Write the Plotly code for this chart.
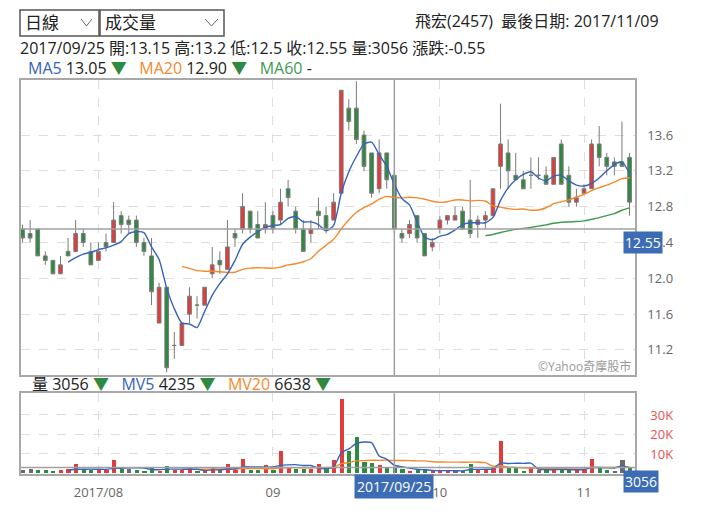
import plotly.graph_objects as go

# ---------------- data ----------------
dates = (
    ["2017/07/%02d" % d for d in [18, 19, 20, 21, 24, 25, 26, 27, 28, 31]]
    + ["2017/08/%02d" % d for d in [1, 2, 3, 4, 7, 8, 9, 10, 11, 14, 15, 16, 17, 18, 21, 22, 23, 24, 25, 28, 29, 30, 31]]
    + ["2017/09/%02d" % d for d in [1, 4, 5, 6, 7, 8, 11, 12, 13, 14, 15, 18, 19, 20, 21, 22, 25, 26, 27, 28, 29, 30]]
    + ["2017/10/%02d" % d for d in [2, 3, 5, 6, 11, 12, 13, 16, 17, 18, 19, 20, 23, 24, 25, 26, 27, 30, 31]]
    + ["2017/11/%02d" % d for d in [1, 2, 3, 6, 7, 8, 9]]
)

open_ = [12.55, 12.5, 12.55, 12.25, 12.2, 12.05, 12.3, 12.3, 12.5, 12.3,
         12.2, 12.4, 12.4, 12.7, 12.65, 12.65, 12.4, 12.25, 11.5, 11.9,
         11.25, 11.25, 11.6, 11.7, 11.7, 12.05, 12.2, 12.1, 12.5, 12.55,
         12.75, 12.6, 12.55, 12.7, 12.65, 13.0, 12.75, 12.55, 12.5, 12.75,
         12.7, 12.65, 12.95, 13.9, 13.9, 13.6, 13.4, 13.0, 13.4, 13.15,
         12.5, 12.5, 12.7, 12.5, 12.35, 12.55, 12.65, 12.65, 12.75, 12.65,
         12.6, 12.65, 12.7, 13.25, 13.4, 13.15, 13.1, 13.15, 13.15, 13.15,
         13.05, 13.5, 13.15, 12.85, 12.95, 13.0, 13.5, 13.35, 13.3, 13.3,
         13.35]
high = [12.6, 12.65, 12.55, 12.3, 12.2, 12.25, 12.45, 12.65, 12.55, 12.4,
        12.4, 12.5, 12.85, 12.75, 12.7, 12.7, 12.45, 12.45, 11.95, 11.9,
        11.4, 11.5, 11.9, 11.8, 11.9, 12.35, 12.3, 12.65, 12.55, 12.95,
        12.75, 12.75, 12.85, 12.75, 13.0, 13.1, 12.8, 12.65, 12.65, 12.9,
        12.8, 12.95, 14.1, 14.0, 14.2, 13.65, 13.4, 13.55, 13.4, 13.2,
        12.55, 12.65, 12.7, 12.5, 12.45, 12.7, 12.7, 12.8, 12.8, 13.1,
        12.7, 12.75, 13.0, 13.95, 13.55, 13.4, 13.2, 13.35, 13.35, 13.25,
        13.35, 13.55, 13.25, 13.0, 13.05, 13.55, 13.7, 13.4, 13.35, 13.75,
        13.4]
low = [12.4, 12.4, 12.25, 12.15, 12.05, 12.05, 12.25, 12.3, 12.35, 12.15,
       12.2, 12.3, 12.4, 12.5, 12.5, 12.35, 12.25, 11.7, 11.5, 10.95,
       11.1, 11.25, 11.5, 11.55, 11.7, 12.0, 12.05, 12.1, 12.35, 12.5,
       12.5, 12.45, 12.5, 12.5, 12.6, 12.8, 12.5, 12.3, 12.4, 12.55,
       12.5, 12.65, 12.95, 13.65, 13.5, 13.2, 12.9, 12.95, 13.0, 12.5,
       12.4, 12.45, 12.4, 12.25, 12.3, 12.5, 12.6, 12.65, 12.55, 12.45,
       12.45, 12.55, 12.7, 13.0, 13.0, 13.1, 13.0, 13.0, 13.1, 13.05,
       13.05, 13.05, 12.8, 12.8, 12.95, 13.0, 13.25, 13.15, 13.15, 13.25,
       12.7]
close = [12.45, 12.45, 12.25, 12.2, 12.05, 12.15, 12.25, 12.5, 12.4, 12.15,
         12.3, 12.35, 12.65, 12.6, 12.6, 12.4, 12.3, 11.85, 11.9, 11.0,
         11.25, 11.5, 11.8, 11.7, 11.9, 12.15, 12.15, 12.35, 12.45, 12.8,
         12.55, 12.45, 12.6, 12.55, 12.85, 12.9, 12.55, 12.3, 12.55, 12.7,
         12.55, 12.85, 14.1, 13.75, 13.55, 13.25, 12.95, 13.4, 13.1, 12.55,
         12.45, 12.6, 12.45, 12.25, 12.4, 12.65, 12.7, 12.7, 12.55, 12.5,
         12.65, 12.7, 13.0, 13.5, 13.2, 13.1, 13.0, 13.15, 13.15, 13.05,
         13.35, 13.05, 12.85, 12.9, 13.0, 13.5, 13.35, 13.25, 13.25, 13.25,
         12.85]
volume = [1500, 2300, 1600, 1600, 1300, 1600, 1900, 4500, 1500, 1600,
          1400, 1600, 7000, 1900, 2400, 1600, 1300, 3200, 1300, 3900,
          1400, 1400, 2800, 1300, 1200, 2500, 1600, 4800, 1400, 7400,
          1700, 1500, 4300, 1700, 11400, 3300, 2000, 2000, 1900, 4500,
          2000, 6600, 38200, 11600, 18600, 5600, 5000, 4300, 3200, 3056,
          1900, 1200, 1400, 1900, 1500, 1300, 1300, 1300, 1300, 4900,
          1800, 1600, 2500, 16600, 3100, 2500, 1200, 3100, 1500, 1500,
          2200, 2200, 2400, 1500, 1500, 7400, 2500, 1500, 1300, 6900,
          2500]

ma5 = [None] * 6 + [
    12.18, 12.23, 12.27, 12.29, 12.32, 12.34, 12.37, 12.41, 12.50, 12.52,
    12.51, 12.35, 12.21, 11.89, 11.66, 11.50, 11.49, 11.45, 11.63, 11.81,
    11.94, 12.05, 12.20, 12.38, 12.46, 12.52, 12.57, 12.59, 12.60, 12.67,
    12.69, 12.63, 12.63, 12.60, 12.53, 12.59, 12.95, 13.19, 13.36, 13.50,
    13.52, 13.38, 13.25, 13.05, 12.89, 12.82, 12.63, 12.46, 12.43, 12.47,
    12.49, 12.54, 12.60, 12.62, 12.62, 12.62, 12.68, 12.87, 13.01, 13.10,
    13.16, 13.19, 13.12, 13.09, 13.14, 13.15, 13.09, 13.04, 13.03, 13.06,
    13.12, 13.20, 13.27, 13.30, 13.17]
ma20 = [None] * 21 + [
    12.133, 12.110, 12.085, 12.078, 12.078, 12.073, 12.065, 12.068, 12.100, 12.113,
    12.118, 12.115, 12.113, 12.125, 12.150, 12.163, 12.185, 12.218, 12.303, 12.368,
    12.435, 12.550, 12.653, 12.735, 12.790, 12.830, 12.883, 12.915, 12.903, 12.898,
    12.905, 12.898, 12.883, 12.860, 12.848, 12.855, 12.875, 12.875, 12.865, 12.870,
    12.863, 12.808, 12.795, 12.778, 12.770, 12.773, 12.760, 12.763, 12.788, 12.833,
    12.855, 12.875, 12.908, 12.938, 12.980, 13.013, 13.040, 13.075, 13.113, 13.123]
ma60 = [None] * 61 + [
    12.477, 12.489, 12.511, 12.530, 12.546, 12.558, 12.569, 12.582, 12.597, 12.614,
    12.626, 12.629, 12.634, 12.641, 12.659, 12.677, 12.700, 12.723, 12.760, 12.787]
mv5 = [None] * 6 + [
    1600, 2180, 2160, 2220, 2180, 2120, 2620, 2700, 2860, 2900,
    2840, 2080, 1960, 2260, 2220, 2240, 2160, 2160, 1620, 1840,
    1880, 2280, 2300, 3540, 3380, 3360, 3260, 3320, 4120, 4440,
    4540, 4080, 4120, 2740, 2480, 3400, 10640, 12580, 15400, 16120,
    15800, 9020, 7340, 4235, 3490, 2730, 2150, 1890, 1580, 1460,
    1480, 1460, 1340, 2020, 2120, 2180, 2420, 5480, 5120, 5260,
    5180, 5300, 2280, 1960, 1900, 2100, 1960, 1960, 1960, 3000,
    3060, 2880, 2840, 3920, 2940]
mv20 = [None] * 21 + [
    2200, 2260, 2245, 2240, 2285, 2270, 2285, 2280, 2570, 2585,
    2580, 2445, 2435, 2885, 2970, 3005, 2945, 2975, 3005, 3035,
    3295, 5065, 5580, 6450, 6605, 6775, 6750, 6840, 6638, 6630,
    6620, 6470, 6480, 5990, 5890, 5850, 5820, 5790, 5810, 5800,
    5550, 3760, 4010, 3240, 3080, 2890, 2830, 2750, 2670, 2685,
    2735, 2785, 2765, 2765, 3070, 3130, 3140, 3140, 3240, 3275]

price_ticks = [11.2, 11.6, 12.0, 12.4, 12.8, 13.2, 13.6]
vol_ticks = [10000, 20000, 30000]
vol_tick_labels = ["10K", "20K", "30K"]
month_labels = ["2017/08", "09", "10", "11"]

stock_name = "飛宏(2457)"
last_date = "2017/11/09"
cursor_date = "2017/09/25"

# ---------------- derived ----------------
idx = list(range(len(dates)))
month_starts = [i for i in idx if i > 0 and dates[i][:7] != dates[i - 1][:7]]
ci = dates.index(cursor_date)

RED, GREEN, GRAY = "#e23b3b", "#2f8a41", "#6a6a6a"
BLUE, ORANGE, MGREEN = "#3563bd", "#f5892b", "#3f9a4f"
FONT = "Open Sans, Noto Sans CJK TC, sans-serif"

vol_colors = []
for i in idx:
    if i == 0 or close[i] == close[i - 1]:
        vol_colors.append(GRAY)
    elif close[i] > close[i - 1]:
        vol_colors.append(RED)
    else:
        vol_colors.append(GREEN)

W, H = 720, 517
def px(x):
    return x / W
def py(y):
    return 1 - y / H

xr = [-0.27, 80.72]

fig = go.Figure()
fig.add_trace(go.Candlestick(
    x=idx, open=open_, high=high, low=low, close=close,
    increasing=dict(line=dict(color="#7a7a7a", width=1), fillcolor=RED),
    decreasing=dict(line=dict(color="#7a7a7a", width=1), fillcolor=GREEN),
    whiskerwidth=0, xaxis="x", yaxis="y", hoverinfo="skip", showlegend=False))
for arr, col in [(ma60, MGREEN), (ma20, ORANGE), (ma5, BLUE)]:
    fig.add_trace(go.Scatter(x=idx, y=arr, mode="lines",
                             line=dict(color=col, width=1.4, shape="spline", smoothing=0.6),
                             xaxis="x", yaxis="y", hoverinfo="skip", showlegend=False))
fig.add_trace(go.Bar(x=idx, y=volume, marker=dict(color=vol_colors, line=dict(width=0)),
                     width=0.55, xaxis="x2", yaxis="y2", hoverinfo="skip", showlegend=False))
for arr, col in [(mv20, ORANGE), (mv5, BLUE)]:
    fig.add_trace(go.Scatter(x=idx, y=arr, mode="lines",
                             line=dict(color=col, width=1.4, shape="spline", smoothing=0.6),
                             xaxis="x2", yaxis="y2", hoverinfo="skip", showlegend=False))

dom_x = [px(20.5), px(635)]
frame = dict(showline=True, mirror=True, linecolor="#a8a8a8", linewidth=1.5, zeroline=False)
grid = dict(showgrid=True, gridcolor="#dedede", griddash="dash", gridwidth=1)

fig.update_layout(
    width=W, height=H, margin=dict(l=0, r=0, t=0, b=0),
    paper_bgcolor="white", plot_bgcolor="white",
    font=dict(family=FONT, color="#222"),
    hovermode=False, bargap=0,
    xaxis=dict(domain=dom_x, range=xr, anchor="y", tickvals=month_starts,
               showticklabels=False, ticks="", rangeslider=dict(visible=False),
               **frame, **grid),
    yaxis=dict(domain=[py(375), py(79.5)], range=[10.92, 14.22], side="right",
               anchor="x", tickvals=price_ticks, ticktext=["%.1f" % v for v in price_ticks],
               tickfont=dict(size=13, color="#666"), ticks="", ticklabelstandoff=8,
               **frame, **grid),
    xaxis2=dict(domain=dom_x, range=xr, anchor="y2", tickvals=month_starts,
                ticktext=month_labels, tickfont=dict(size=13, color="#666"),
                ticks="", ticklabelstandoff=6, **frame, **grid),
    yaxis2=dict(domain=[py(473.5), py(393.3)], range=[0, 41100], side="right",
                anchor="x2", tickvals=vol_ticks, ticktext=vol_tick_labels,
                tickfont=dict(size=13, color="#e8514f"), ticks="", ticklabelstandoff=11,
                **frame, **grid),
)

# crosshair
cross = dict(color="#a0a0a0", width=1.5)
fig.add_shape(type="line", xref="x", yref="y domain", x0=ci, x1=ci, y0=0, y1=1, line=cross)
fig.add_shape(type="line", xref="x2", yref="y2 domain", x0=ci, x1=ci, y0=0, y1=1, line=cross)
fig.add_shape(type="line", xref="x domain", yref="y", x0=0, x1=1, y0=close[ci], y1=close[ci], line=cross)
fig.add_shape(type="line", xref="x2 domain", yref="y2", x0=0, x1=1, y0=volume[ci], y1=volume[ci], line=cross)

BOX = "#3b6cb5"
fig.add_annotation(xref="paper", yref="y", x=px(623), y=close[ci], xanchor="left", yanchor="top",
                   text="%.2f" % close[ci], showarrow=False, bgcolor=BOX, borderpad=1,
                   font=dict(size=14, color="white"), yshift=-2)
fig.add_annotation(xref="paper", yref="y2", x=px(623), y=volume[ci], xanchor="left", yanchor="top",
                   text=str(volume[ci]), showarrow=False, bgcolor=BOX, borderpad=1,
                   font=dict(size=14, color="white"), yshift=-2)
fig.add_annotation(xref="x2", yref="paper", x=ci, y=py(474), xanchor="center", yanchor="top",
                   text=cursor_date, showarrow=False, bgcolor=BOX, borderpad=2,
                   font=dict(size=14, color="white"))

# header controls
for x0, x1 in [(20, 99), (100, 224)]:
    fig.add_shape(type="rect", xref="paper", yref="paper", x0=px(x0), x1=px(x1),
                  y0=py(36), y1=py(10), line=dict(color="#555", width=1.5))
for a, b, c in [(81, 86.5, 92), (205, 211.5, 218)]:
    fig.add_shape(type="path", xref="paper", yref="paper",
                  path="M %f,%f L %f,%f L %f,%f" % (px(a), py(19), px(b), py(26), px(c), py(19)),
                  line=dict(color="#666", width=1))
fig.add_annotation(xref="paper", yref="paper", x=px(23), y=py(23), xanchor="left", yanchor="middle",
                   text="日線", showarrow=False, font=dict(size=17, color="#222"))
fig.add_annotation(xref="paper", yref="paper", x=px(103), y=py(23), xanchor="left", yanchor="middle",
                   text="成交量", showarrow=False, font=dict(size=17, color="#222"))
fig.add_annotation(xref="paper", yref="paper", x=px(413), y=py(21), xanchor="left", yanchor="middle",
                   text=stock_name + "&nbsp;&nbsp;最後日期: " + last_date, showarrow=False,
                   font=dict(size=16, color="#222"))

chg = close[ci] - close[ci - 1]
row2 = "%s 開:%g 高:%g 低:%g 收:%g 量:%d 漲跌:%.2f" % (
    cursor_date, open_[ci], high[ci], low[ci], close[ci], volume[ci], chg)
fig.add_annotation(xref="paper", yref="paper", x=px(18), y=py(48), xanchor="left", yanchor="middle",
                   text=row2, showarrow=False, font=dict(size=16, color="#222"))

def arrow(arr):
    if arr[ci] is None or arr[ci - 1] is None:
        return ""
    a = "▼" if arr[ci] < arr[ci - 1] else "▲"
    c = GREEN if arr[ci] < arr[ci - 1] else RED
    return ' <span style="color:%s">%s</span>' % (c, a)

def fmt(arr, f):
    return "-" if arr[ci] is None else f % arr[ci]

sp = "&nbsp;&nbsp;&nbsp;"
row3 = ('<span style="color:%s">MA5</span> %s%s%s<span style="color:%s">MA20</span> %s%s%s'
        '<span style="color:%s">MA60</span> %s%s') % (
    BLUE, fmt(ma5, "%.2f"), arrow(ma5), sp, ORANGE, fmt(ma20, "%.2f"), arrow(ma20), sp,
    MGREEN, fmt(ma60, "%.2f"), arrow(ma60))
fig.add_annotation(xref="paper", yref="paper", x=px(26), y=py(68), xanchor="left", yanchor="middle",
                   text=row3, showarrow=False, font=dict(size=16, color="#222"))

row4 = ('量 %s%s%s<span style="color:%s">MV5</span> %s%s%s<span style="color:%s">MV20</span> %s%s') % (
    fmt(volume, "%d"), arrow(volume), sp, BLUE, fmt(mv5, "%d"), arrow(mv5), sp,
    ORANGE, fmt(mv20, "%d"), arrow(mv20))
fig.add_annotation(xref="paper", yref="paper", x=px(30), y=py(383.5), xanchor="left", yanchor="middle",
                   text=row4, showarrow=False, font=dict(size=16, color="#222"))

fig.add_annotation(xref="paper", yref="paper", x=px(633), y=py(366), xanchor="right", yanchor="middle",
                   text="©Yahoo奇摩股市", showarrow=False, font=dict(size=12, color="#999"))

fig.write_html("out.html", config={"displayModeBar": False},
               post_script="document.body.style.margin='0px';")
